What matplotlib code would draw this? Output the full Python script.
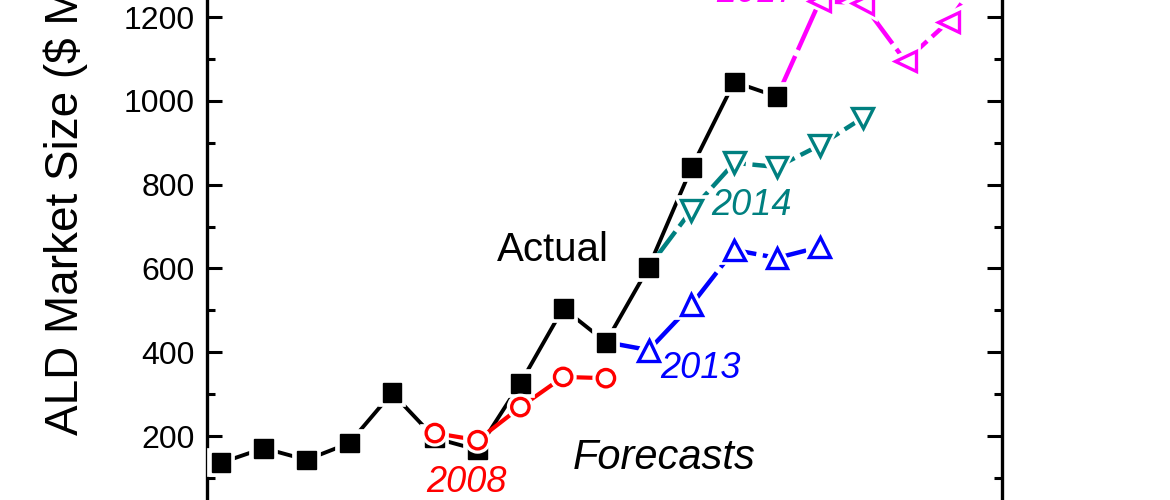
import matplotlib
matplotlib.use("Agg")
import matplotlib.pyplot as plt
import matplotlib.patheffects as pe

plt.rcParams['font.family'] = ['Liberation Sans', 'DejaVu Sans']

# actual market size
actual_years = [2003, 2004, 2005, 2006, 2007, 2008, 2009, 2010, 2011, 2012, 2013, 2014, 2015, 2016]
actual_vals = [136, 171, 143, 183, 303, 195, 167, 326, 505, 424, 603, 840, 1045, 1010]

# forecasts (first point of 2013/2014/2017 lines is the actual value they start from)
f2008_years = [2008, 2009, 2010, 2011, 2012]
f2008_vals = [207, 190, 269, 341, 338]

f2013_years = [2012, 2013, 2014, 2015, 2016, 2017]
f2013_vals = [424, 405, 513, 644, 625, 651]

f2014_years = [2013, 2014, 2015, 2016, 2017, 2018]
f2014_vals = [603, 739, 852, 842, 894, 959]

f2017_years = [2016, 2017, 2018, 2019, 2020, 2021]
f2017_vals = [1010, 1238, 1233, 1095, 1188, 1330]

fig = plt.figure(figsize=(11.7, 5), dpi=100)
ax = fig.add_axes([0.1769, -0.0396, 0.6795, 1.1732])

halo = [pe.withStroke(linewidth=7, foreground='white')]
dash = (0, (10, 1.5))

# lines first
ax.plot(actual_years, actual_vals, color='black', lw=2.8, zorder=2)
ax.plot(f2008_years, f2008_vals, color='red', lw=3, zorder=2)
ax.plot(f2013_years, f2013_vals, color='blue', lw=3.2, ls=dash, zorder=2)
ax.plot(f2014_years, f2014_vals, color='#008080', lw=3.2, ls=dash, zorder=2)
ax.plot(f2017_years, f2017_vals, color='#FF00FF', lw=3.2, ls=dash, zorder=2)

# markers with white halo so lines stop short of them
ax.plot(actual_years, actual_vals, ls='none', marker='s', ms=13.5,
        color='black', path_effects=halo, zorder=3)
ax.plot(f2008_years, f2008_vals, ls='none', marker='o', ms=12.5, mew=2.4,
        mec='red', mfc='white', path_effects=halo, zorder=4)
ax.plot(f2013_years[1:], f2013_vals[1:], ls='none', marker='^', ms=15, mew=2.4,
        mec='blue', mfc='white', path_effects=halo, zorder=4)
ax.plot(f2014_years[1:], f2014_vals[1:], ls='none', marker='v', ms=15, mew=2.4,
        mec='#008080', mfc='white', path_effects=halo, zorder=4)
ax.plot(f2017_years[1:], f2017_vals[1:], ls='none', marker='<', ms=15, mew=2.4,
        mec='#FF00FF', mfc='white', path_effects=halo, zorder=4)

ax.text(2010.75, 644, 'Actual', fontsize=29, ha='center', va='center')
ax.text(2013.37, 147, 'Forecasts', fontsize=30, style='italic', ha='center', va='center')
ax.text(2008.75, 90, '2008', fontsize=26, style='italic', color='red', ha='center', va='center')
ax.text(2014.21, 362, '2013', fontsize=26, style='italic', color='blue', ha='center', va='center')
ax.text(2015.41, 751, '2014', fontsize=26, style='italic', color='#008080', ha='center', va='center')
ax.text(2015.52, 1258, '2017', fontsize=26, style='italic', color='#FF00FF', ha='center', va='center')

ax.set_xlim(2002.673, 2021.26)
ax.set_ylim(0, 1400)
ax.set_yticks(range(0, 1401, 200))
ax.set_yticks(range(100, 1400, 200), minor=True)
ax.tick_params(axis='y', which='both', direction='in', left=True, right=True,
               width=2.2, labelsize=23, pad=9)
ax.tick_params(axis='y', which='major', length=11)
ax.tick_params(axis='y', which='minor', length=6)
ax.tick_params(axis='x', labelbottom=False, bottom=False)
for s in ax.spines.values():
    s.set_linewidth(2.4)

fig.text(0.0564, 0.13, 'ALD Market Size ($ Millions)', fontsize=33, rotation=90,
         rotation_mode='anchor', ha='left', va='center')

fig.savefig('out.png', dpi=100)
